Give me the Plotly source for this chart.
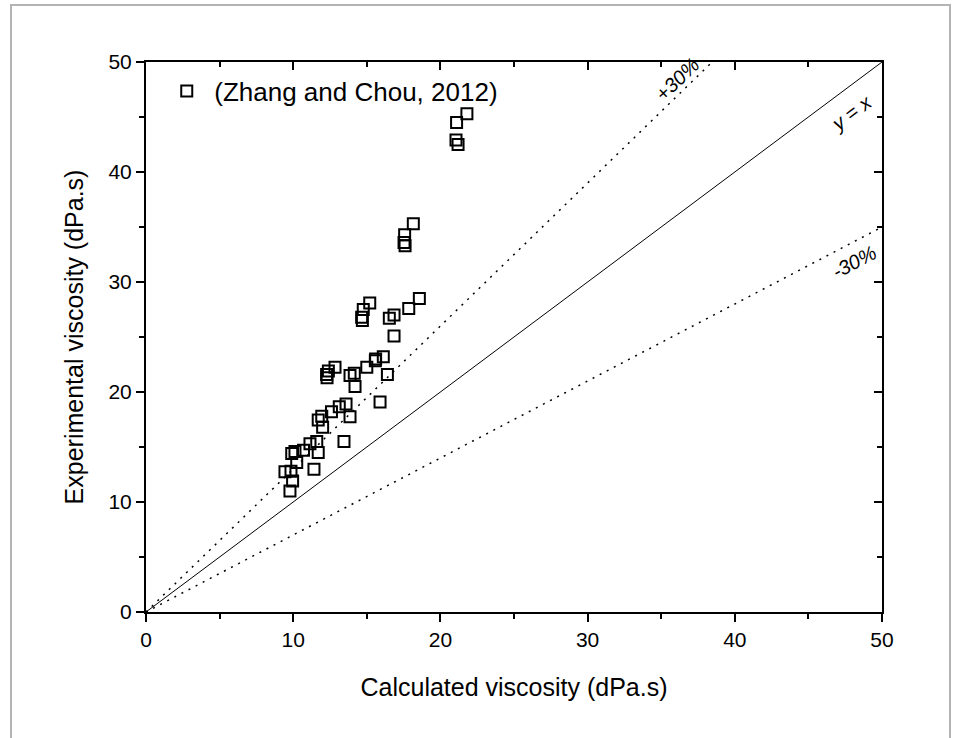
import plotly.graph_objects as go

calc_visc = [21.1, 21.8, 21.06, 21.2, 18.16, 17.57, 17.53, 17.6, 15.2, 14.76,
             14.65, 14.7, 18.57, 17.85, 16.85, 16.53, 16.85, 16.12, 15.58, 15.6,
             15.0, 14.15, 13.86, 14.2, 16.4, 12.84, 12.39, 12.27, 12.3, 15.9,
             13.59, 13.13, 12.6, 13.86, 11.94, 11.7, 12.0, 13.45, 11.14, 11.6,
             11.7, 10.7, 10.12, 9.9, 10.24, 11.41, 9.44, 9.85, 9.96, 9.78]
exp_visc = [44.5, 45.3, 42.9, 42.5, 35.3, 34.3, 33.6, 33.3, 28.1, 27.5,
            26.8, 26.5, 28.5, 27.6, 27.0, 26.7, 25.1, 23.2, 22.85, 23.0,
            22.25, 21.7, 21.5, 20.5, 21.6, 22.25, 21.9, 21.6, 21.3, 19.1,
            18.9, 18.66, 18.2, 17.75, 17.8, 17.45, 16.8, 15.5, 15.3, 15.5,
            14.5, 14.7, 14.6, 14.4, 13.6, 12.97, 12.75, 12.8, 11.9, 11.0]

ref_x = [0, 50]
ref_factors = [1.0, 1.3, 0.7]

FONT = "Liberation Sans, Arial, sans-serif"

fig = go.Figure()

for f in ref_factors:
    fig.add_trace(go.Scatter(
        x=ref_x, y=[v * f for v in ref_x], mode="lines",
        line=dict(color="black", width=1 if f == 1.0 else 1.5,
                  dash="solid" if f == 1.0 else "2px,6px"),
        showlegend=False, hoverinfo="skip"))

# invisible trace so the mirrored (top/right) axes are drawn
fig.add_trace(go.Scatter(x=ref_x, y=ref_x, xaxis="x2", yaxis="y2", mode="lines",
                         line=dict(width=0), opacity=0, showlegend=False, hoverinfo="skip"))

fig.add_trace(go.Scatter(
    x=calc_visc, y=exp_visc, mode="markers",
    name="(Zhang and Chou, 2012)",
    marker=dict(symbol="square-open", size=11, color="black",
                line=dict(width=2, color="black"))))

W, H = 955, 738
L, R, T, B = 146, 882, 62, 612

def px2paper(px, py):
    return (px - L) / (R - L), (B - py) / (B - T)

x0, y1 = px2paper(11, 5)
x1, y0 = px2paper(950, 760)
fig.add_shape(type="rect", xref="paper", yref="paper", x0=x0, x1=x1, y0=y0, y1=y1,
              line=dict(color="#b4b4b4", width=2), layer="below")

fig.add_annotation(x=47.9, y=45.4, text="<i>y = x</i>", showarrow=False,
                   textangle=-37, font=dict(family=FONT, size=20, color="black"))
fig.add_annotation(x=36.1, y=48.5, text="<i>+30%</i>", showarrow=False,
                   textangle=-44, font=dict(family=FONT, size=20, color="black"))
fig.add_annotation(x=48.1, y=31.8, text="<i>-30%</i>", showarrow=False,
                   textangle=-28, font=dict(family=FONT, size=20, color="black"))

axis_common = dict(range=[0, 50], dtick=10, tick0=0, showgrid=False, zeroline=False,
                   showline=True, linecolor="black", linewidth=2,
                   tickcolor="black", tickwidth=2, ticklen=8)
tickfont = dict(family=FONT, size=21, color="black")

fig.update_layout(
    width=W, height=H,
    margin=dict(l=L, r=W - R, t=T, b=H - B),
    paper_bgcolor="white", plot_bgcolor="white",
    font=dict(family=FONT, color="black"),
    xaxis=dict(**axis_common, ticks="outside", tickfont=tickfont,
               minor=dict(ticks="outside", dtick=5, ticklen=5, tickwidth=2, tickcolor="black"),
               title=dict(text="Calculated viscosity (dPa.s)",
                          font=dict(family=FONT, size=25, color="black"), standoff=28)),
    yaxis=dict(**axis_common, ticks="outside", tickfont=tickfont,
               minor=dict(ticks="outside", dtick=5, ticklen=5, tickwidth=2, tickcolor="black"),
               title=dict(text="Experimental viscosity (dPa.s)",
                          font=dict(family=FONT, size=25, color="black"), standoff=18)),
    xaxis2=dict(**axis_common, overlaying="x", side="top", ticks="inside",
                showticklabels=False,
                minor=dict(ticks="inside", dtick=5, ticklen=5, tickwidth=2, tickcolor="black")),
    yaxis2=dict(**axis_common, overlaying="y", side="right", ticks="inside",
                showticklabels=False,
                minor=dict(ticks="inside", dtick=5, ticklen=5, tickwidth=2, tickcolor="black")),
    legend=dict(x=0.018, y=0.99, xanchor="left", yanchor="top",
                bgcolor="rgba(0,0,0,0)", borderwidth=0, itemwidth=45,
                font=dict(family=FONT, size=26, color="black")),
    showlegend=True,
)

fig.write_html("out.html")
